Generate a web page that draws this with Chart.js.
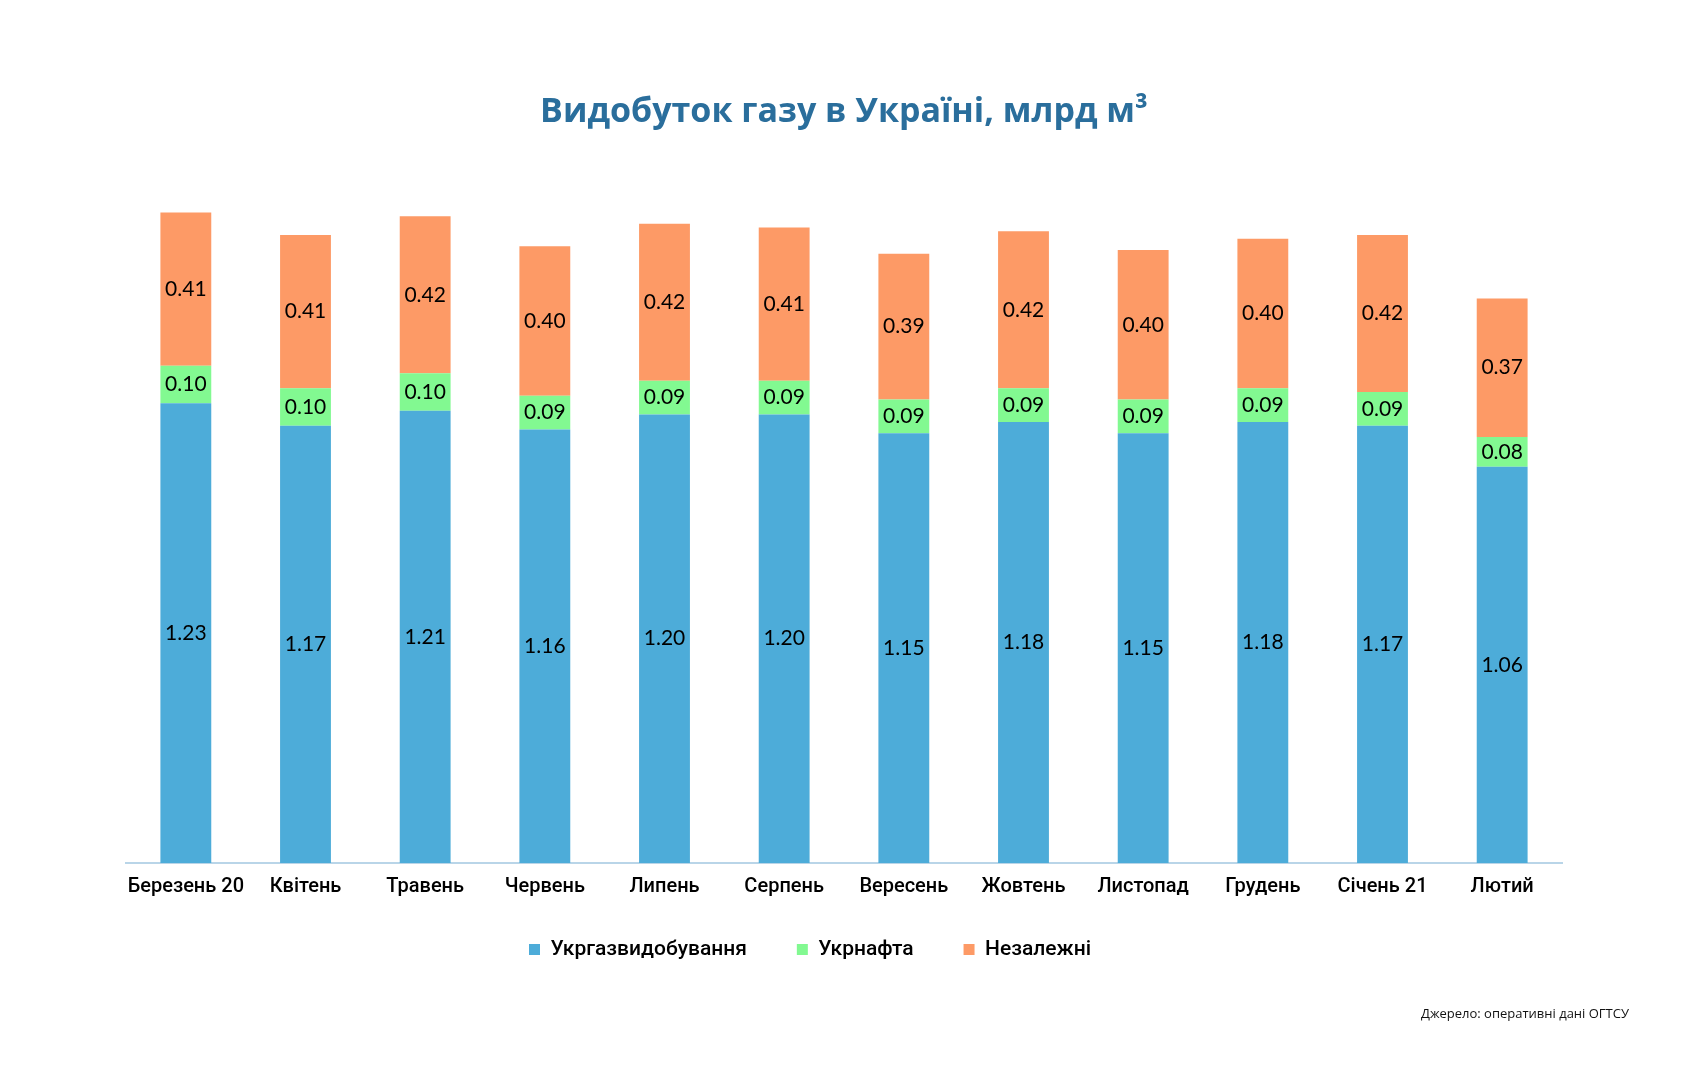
<!DOCTYPE html>
<html lang="uk">
<head>
<meta charset="utf-8">
<title>Видобуток газу в Україні</title>
<script src="https://cdn.jsdelivr.net/npm/chart.js@4/dist/chart.umd.min.js"></script>
<style>
  html, body { margin: 0; padding: 0; background: #fff; }
  #wrap { position: relative; width: 1684px; height: 1080px; }
  #source {
    position: absolute; right: 55px; top: 1004px;
    font: 13px "Open Sans", sans-serif; color: #111;
  }
</style>
</head>
<body>
<div id="wrap">
  <canvas id="grafico" width="1684" height="1080"></canvas>
  <div id="source">Джерело: оперативні дані ОГТСУ</div>
</div>
<script>
const meses = ['Березень 20', 'Квітень', 'Травень', 'Червень', 'Липень', 'Серпень',
  'Вересень', 'Жовтень', 'Листопад', 'Грудень', 'Січень 21', 'Лютий'];
const ukrgaz = [1.23, 1.17, 1.21, 1.16, 1.20, 1.20, 1.15, 1.18, 1.15, 1.18, 1.17, 1.06];
const ukrnafta = [0.10, 0.10, 0.10, 0.09, 0.09, 0.09, 0.09, 0.09, 0.09, 0.09, 0.09, 0.08];
const nezalezhni = [0.41, 0.41, 0.42, 0.40, 0.42, 0.41, 0.39, 0.42, 0.40, 0.40, 0.42, 0.37];

// etiquetas centradas dentro de cada segmento
const etiquetas = {
  id: 'etiquetas',
  afterDatasetsDraw(chart) {
    const { ctx } = chart;
    ctx.save();
    ctx.font = '21px Lato, sans-serif';
    ctx.fillStyle = '#000';
    ctx.textAlign = 'center';
    ctx.textBaseline = 'middle';
    chart.data.datasets.forEach((ds, i) => {
      chart.getDatasetMeta(i).data.forEach((bar, j) => {
        ctx.fillText(ds.data[j].toFixed(2), bar.x, (bar.y + bar.base) / 2);
      });
    });
    ctx.restore();
  }
};

// la leyenda del original no está centrada en el lienzo y queda más arriba
const moverLeyenda = {
  id: 'moverLeyenda',
  afterLayout(chart) {
    const l = chart.legend;
    l.left -= 34;
    l.right -= 34;
    l.top -= 22;
    l.bottom -= 22;
  }
};

new Chart(document.querySelector('#grafico'), {
  type: 'bar',
  data: {
    labels: meses,
    datasets: [
      { label: 'Укргазвидобування', data: ukrgaz, backgroundColor: '#4dacd9' },
      { label: 'Укрнафта', data: ukrnafta, backgroundColor: '#82f991' },
      { label: 'Незалежні', data: nezalezhni, backgroundColor: '#fd9a66' }
    ]
  },
  options: {
    responsive: false,
    animation: false,
    barPercentage: 0.85,
    categoryPercentage: 0.5,
    layout: { padding: { left: 126, right: 122, top: 0, bottom: 88 } },
    plugins: {
      title: {
        display: true,
        text: 'Видобуток газу в Україні, млрд м³',
        color: '#2a6e9c',
        font: { family: '"Open Sans", sans-serif', size: 34, weight: 'bold' },
        padding: { top: 92, bottom: 20 }
      },
      legend: {
        position: 'bottom',
        labels: {
          boxWidth: 11,
          boxHeight: 11,
          padding: 50,
          color: '#000',
          font: { family: 'Roboto, sans-serif', size: 21, weight: 500 }
        }
      },
      tooltip: { enabled: false }
    },
    scales: {
      x: {
        stacked: true,
        grid: { display: false, drawTicks: false },
        border: { display: true, color: '#b9d5e8', width: 2 },
        ticks: {
          padding: 12,
          autoSkip: false,
          maxRotation: 0,
          minRotation: 0,
          color: '#000',
          font: { family: 'Roboto, sans-serif', size: 20, weight: 500 }
        }
      },
      y: {
        stacked: true,
        display: false,
        min: 0,
        max: 1.9
      }
    }
  },
  plugins: [etiquetas, moverLeyenda]
});
</script>
</body>
</html>
